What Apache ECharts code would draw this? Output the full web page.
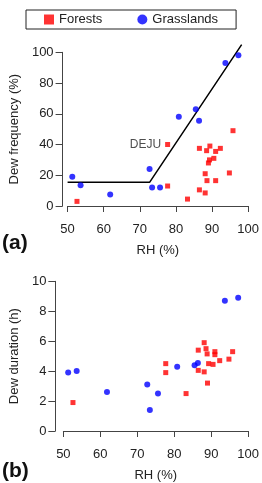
<!DOCTYPE html>
<html>
<head>
<meta charset="utf-8">
<script src="https://cdn.jsdelivr.net/npm/echarts@6/dist/echarts.min.js"></script>
<style>
  html, body { margin: 0; padding: 0; background: #fff; }
  #chart { width: 262px; height: 483px; }
</style>
</head>
<body>
<div id="chart"></div>
<script>
// RH (%) 刻度
var rhTicks = [50, 60, 70, 80, 90, 100];

// (a) 露水频率 Dew frequency (%)
var forestFreq = [
    [52.6, 3], [77.7, 40], [77.7, 13], [83.2, 4.5], [86.5, 37.5], [86.5, 10.5],
    [88.1, 21], [88.1, 8.5], [88.5, 36], [88.6, 16.5], [89.0, 28], [89.3, 30],
    [89.4, 39], [90.5, 31], [91.0, 35.5], [91.0, 16.5], [92.3, 37.5], [94.8, 21.5],
    [95.8, 49]
];
var grassFreq = [
    [51.3, 19], [53.6, 13.5], [61.8, 7.5], [72.7, 24], [73.4, 12], [75.6, 12],
    [80.8, 58], [85.5, 63], [86.4, 55.5], [93.7, 93], [97.3, 98]
];
// 分段回归线
var breakLine = [[50, 15.4], [72.7, 15.4], [98.2, 105]];

// (b) 露水持续时间 Dew duration (h)
var forestDur = [
    [52.6, 1.9], [77.7, 4.5], [77.7, 3.9], [83.2, 2.5], [86.5, 5.4], [86.5, 4.05],
    [88.1, 3.95], [88.1, 5.9], [88.6, 5.5], [88.9, 5.15], [89.0, 3.2], [89.3, 4.5],
    [90.5, 4.45], [91.0, 5.3], [91.0, 5.1], [92.3, 4.7], [94.8, 4.8], [95.8, 5.3]
];
var grassDur = [
    [51.3, 3.9], [53.6, 4.0], [61.8, 2.6], [72.7, 3.1], [73.4, 1.4], [75.6, 2.5],
    [80.8, 4.3], [85.5, 4.4], [86.4, 4.55], [93.7, 8.7], [97.3, 8.9]
];

var myChart = echarts.init(document.getElementById('chart'));

var font = 'Liberation Sans, Arial, sans-serif';
var axisColor = '#444';
var textColor = '#222';

function xAxisOpt(gridIndex) {
    return {
        gridIndex: gridIndex,
        type: 'value',
        min: rhTicks[0],
        max: rhTicks[rhTicks.length - 1],
        interval: rhTicks[1] - rhTicks[0],
        offset: 7,
        name: 'RH (%)',
        nameLocation: 'middle',
        nameGap: 31,
        nameTextStyle: { fontSize: 13, color: textColor, fontFamily: font },
        axisLine: { show: true, lineStyle: { color: axisColor, width: 1 } },
        axisTick: { show: true, length: 6, lineStyle: { color: axisColor } },
        axisLabel: { fontSize: 13, color: textColor, fontFamily: font, margin: 10 },
        splitLine: { show: false }
    };
}

function yAxisOpt(gridIndex, max, interval, name, offset) {
    return {
        gridIndex: gridIndex,
        type: 'value',
        min: 0,
        max: max,
        interval: interval,
        offset: offset,
        name: name,
        nameLocation: 'middle',
        nameGap: 32,
        nameTextStyle: { fontSize: 13, color: textColor, fontFamily: font },
        axisLine: { show: true, lineStyle: { color: axisColor, width: 1 } },
        axisTick: { show: true, length: 7, lineStyle: { color: axisColor } },
        axisLabel: { fontSize: 13, color: textColor, fontFamily: font, margin: 9 },
        splitLine: { show: false }
    };
}

var option = {
    animation: false,
    textStyle: { fontFamily: font },
    // 面板标签
    title: [
        { text: '(a)', left: -3, top: 228, textStyle: { fontSize: 21, fontWeight: 'bold', color: '#111', fontFamily: font } },
        { text: '(b)', left: -3, top: 456, textStyle: { fontSize: 21, fontWeight: 'bold', color: '#111', fontFamily: font } }
    ],
    // 图例
    legend: {
        left: 26,
        top: 10,
        padding: [3, 18, 3, 18],
        borderColor: '#222',
        borderWidth: 1,
        itemGap: 35,
        itemWidth: 10,
        itemHeight: 10,
        textStyle: { fontSize: 13, color: textColor, fontFamily: font },
        data: [
            { name: 'Forests', icon: 'rect' },
            { name: 'Grasslands', icon: 'circle' }
        ]
    },
    grid: [
        { left: 59, right: 6, top: 52.3, height: 153.7 },
        { left: 59, right: 6, top: 281.3, height: 153.7 }
    ],
    xAxis: [xAxisOpt(0), xAxisOpt(1)],
    yAxis: [
        yAxisOpt(0, 100, 20, 'Dew frequency (%)', 5),
        yAxisOpt(1, 10, 2, 'Dew duration (h)', 8)
    ],
    series: [
        {
            name: 'Breakpoint fit',
            type: 'line',
            xAxisIndex: 0,
            yAxisIndex: 0,
            data: breakLine,
            symbol: 'none',
            clip: false,
            lineStyle: { color: '#000', width: 1.5 },
            z: 1
        },
        {
            name: 'Forests',
            type: 'scatter',
            xAxisIndex: 0,
            yAxisIndex: 0,
            symbol: 'rect',
            symbolSize: 5,
            itemStyle: { color: '#ff0000' },
            data: forestFreq.map(function (d, i) {
                // DEJU 站点标注
                if (i === 1) {
                    return {
                        value: d,
                        label: {
                            show: true, formatter: 'DEJU', position: 'left', distance: 4,
                            fontSize: 12, color: textColor, fontFamily: font
                        }
                    };
                }
                return d;
            }),
            z: 3
        },
        {
            name: 'Grasslands',
            type: 'scatter',
            xAxisIndex: 0,
            yAxisIndex: 0,
            symbol: 'circle',
            symbolSize: 6,
            itemStyle: { color: '#0000ff' },
            data: grassFreq,
            z: 3
        },
        {
            name: 'Forests',
            type: 'scatter',
            xAxisIndex: 1,
            yAxisIndex: 1,
            symbol: 'rect',
            symbolSize: 5,
            itemStyle: { color: '#ff0000' },
            data: forestDur,
            z: 3
        },
        {
            name: 'Grasslands',
            type: 'scatter',
            xAxisIndex: 1,
            yAxisIndex: 1,
            symbol: 'circle',
            symbolSize: 6,
            itemStyle: { color: '#0000ff' },
            data: grassDur,
            z: 3
        }
    ]
};

myChart.setOption(option);
</script>
</body>
</html>
